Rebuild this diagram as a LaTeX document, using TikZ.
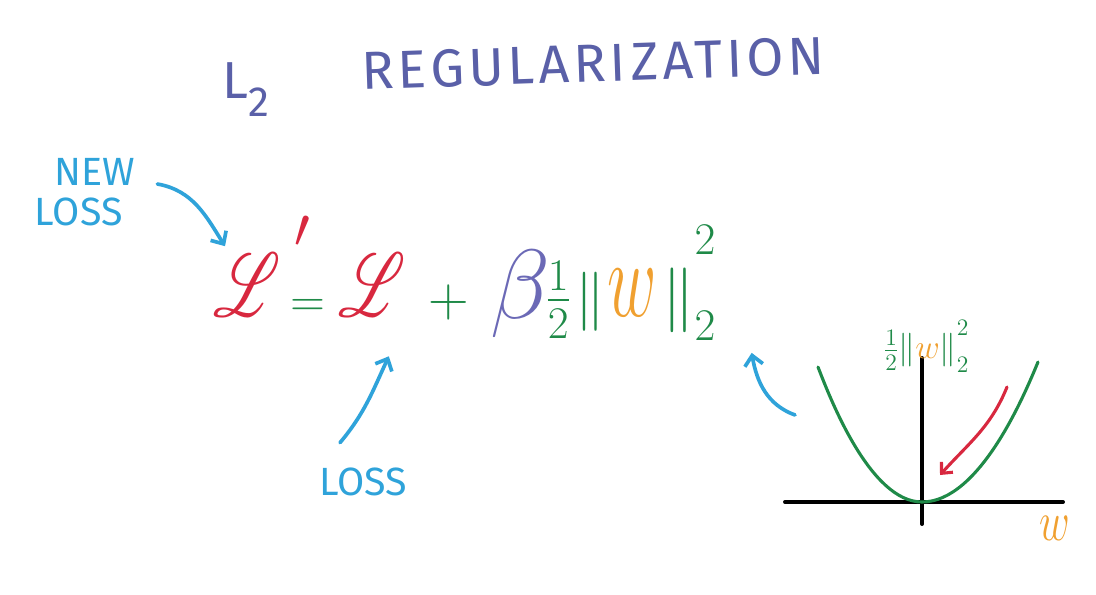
\documentclass[tikz,border=0pt]{standalone}
\usepackage{fix-cm}
\usepackage{amsmath}
\usepackage{mathrsfs}
\usepackage{fontspec}
\setmainfont{Fira Sans}
\usetikzlibrary{arrows.meta, calc}
% scalable script letters
\DeclareFontFamily{U}{rsfs}{\skewchar\font127 }
\DeclareFontShape{U}{rsfs}{m}{n}{<-> rsfs10}{}
\definecolor{titleblue}{HTML}{5A60A8}
\definecolor{notecyan}{HTML}{2FA3DA}
\definecolor{lossred}{HTML}{D8283F}
\definecolor{regreen}{HTML}{1F8A48}
\definecolor{wgold}{HTML}{F0A030}
\definecolor{betaviolet}{HTML}{6B69B6}
\newcommand{\fsz}[1]{\fontsize{#1}{#1}\selectfont}
\newcommand{\narrowL}{\scalebox{0.7}[1]{$\mathscr{L}$}}
\newcommand{\narroww}{\scalebox{0.62}[1]{$w$}}
% norm bar with its two indices set apart: #1 raise of the upper, #2 drop of the lower
\newcommand{\normtwo}[2]{$\|$\rlap{\raisebox{#1}{$\scriptstyle 2$}}\raisebox{-#2}{$\scriptstyle 2$}}
\tikzset{
  title text/.style={text=titleblue, inner sep=0pt},
  note text/.style={
    text=notecyan,
    font=\fsz{28},
    inner sep=0pt,
    align=left
  },
  note arrow/.style={
    -{Straight Barb[length=7pt, width=13pt]},
    line width=2.6pt,
    line cap=round,
    line join=round,
    color=notecyan
  },
  term/.style={inner sep=0pt, anchor=base west},
  axis line/.style={line width=2.8pt, line cap=round},
  curve line/.style={line width=2.2pt, color=regreen, line cap=round}
}

\begin{document}
\begin{tikzpicture}[x=0.025cm, y=-0.025cm]
  \useasboundingbox[fill=white] (0,0) rectangle (1096,594);

  % title
  \node[title text, anchor=base west, font=\fsz{37}] (ltwo) at (222,98) {L\raisebox{-0.35em}{\fsz{30}2}};
  \node[title text, anchor=base west, font=\fsz{38}\addfontfeatures{LetterSpace=8}, rotate=2] (title) at (362,90) {REGULARIZATION};

  % the loss with its penalty
  \node[term, text=lossred, font=\fsz{64}] (lnew) at (213,316) {\narrowL\hspace{10pt}\raisebox{0.76em}{\fsz{40}$\prime$}};
  \node[term, text=regreen, font=\fsz{34}] (eq) at (290,316) {$=$};
  \node[term, text=lossred, font=\fsz{64}] (lold) at (338,316) {\narrowL};
  \node[term, text=regreen, font=\fsz{40}] (plus) at (428,316) {$+$};
  \node[term, text=betaviolet, font=\fsz{70}] (beta) at (490,318) {$\beta$};
  \node[term, text=regreen, font=\fsz{46}] (half) at (546,316) {$\tfrac{1}{2}$};
  \node[term, text=regreen, font=\fsz{42}] (nleft) at (575,316) {$\|$};
  \node[term, text=wgold, font=\fsz{78}] (wvar) at (607,316) {\narroww};
  \node[term, text=regreen, font=\fsz{46}] (nright) at (662,316) {\normtwo{0.95em}{0.38em}};

  % notes
  \node[note text] (newloss) at (85,192) {\hspace*{14pt}NEW\\LOSS};
  \node[note text] (lossnote) at (363,482) {LOSS};
  \draw[note arrow] ($(newloss.east)+(22,-8)$) to[out=-10, in=122] ($(lnew.west)+(12,-20)$);
  \draw[note arrow] ($(lossnote.north)+(-23,-25)$) to[out=50, in=-115] ($(lold.south)+(17,40)$);

  % penalty curve
  \draw[axis line] (785,502) -- (1063,502);
  \draw[axis line] (922,358) -- (922,524);
  \draw[curve line] (818,367) parabola bend (922,502) (1038,362);
  \draw[line width=2.2pt, color=lossred, line cap=round, -{Straight Barb[length=6pt, width=11pt]}]
    (1007,387) to[out=-112, in=48] (940,475);
  \node[text=regreen, font=\fsz{24}, inner sep=0pt] (ylab) at (926,346) {$\tfrac{1}{2}\|\textcolor{wgold}{w}$\normtwo{0.7em}{0.4em}};
  \node[text=wgold, font=\fsz{40}, inner sep=0pt] (xlab) at (1055,528) {\scalebox{0.75}[1]{$w$}};
  \coordinate (curvenote) at (795,415);
  \draw[note arrow] (curvenote) to[out=160, in=-80] ($(nright.south east)+(36,12)$);
\end{tikzpicture}
\end{document}
